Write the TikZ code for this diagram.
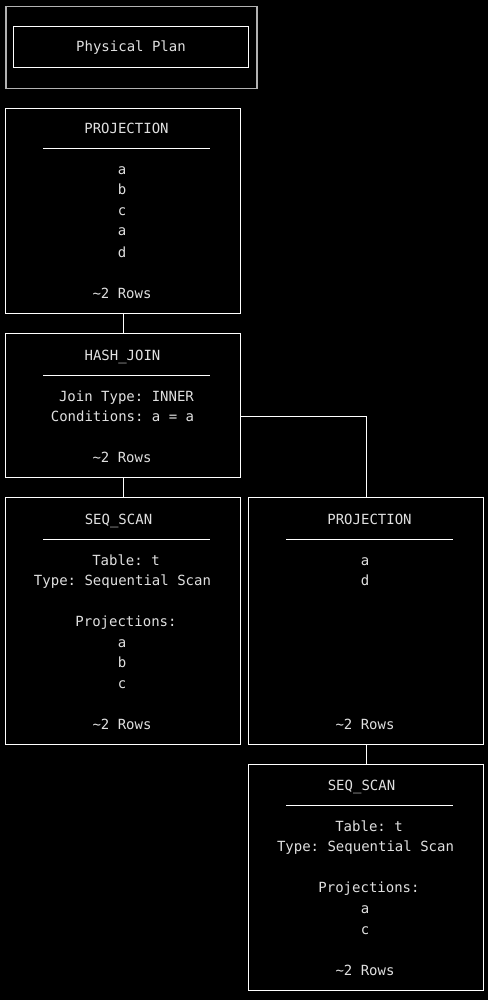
\documentclass[tikz,border=0pt]{standalone}
\usepackage{fontspec}
\setmonofont{DejaVu Sans Mono}
\begin{document}
\begin{tikzpicture}[x=1pt,y=-1pt,
  box/.style={draw=white,line width=1pt,rectangle,inner sep=0pt,anchor=north west},
  tx/.style={text=white!88!black,font=\ttfamily\fontsize{14}{16}\selectfont,anchor=base,inner sep=0pt},
  sep/.style={draw=white,line width=1pt},
  link/.style={draw=white,line width=1pt}]
\fill[black] (0,0) rectangle (488,1000);
\useasboundingbox (0,0) rectangle (488,1000);
% header
\node[box,draw=white!70!black,line width=1.5pt,minimum width=251pt,minimum height=82pt] (outer) at (5,6) {};
\node[box,minimum width=235pt,minimum height=41pt] (inner) at (13,26) {};
\node[tx] (t0) at (131,52) {Physical Plan};
% projection 1
\node[box,minimum width=235pt,minimum height=205pt] (p1) at (5,108) {};
\node[tx] (p1t) at (126.5,134) {PROJECTION};
\draw[sep] (43,149) -- (210,149);
\node[tx] (p1a) at (122,175) {a};
\node[tx] (p1b) at (122,195) {b};
\node[tx] (p1c) at (122,216) {c};
\node[tx] (p1d) at (122,236) {a};
\node[tx] (p1e) at (122,257) {d};
\node[tx] (p1r) at (122,298) {\textasciitilde2 Rows};
% hash join
\node[box,minimum width=235pt,minimum height=144pt] (hj) at (5,333) {};
\node[tx] (hjt) at (122.5,360) {HASH\_JOIN};
\draw[sep] (43,375) -- (210,375);
\node[tx] (hja) at (126.5,401) {Join Type: INNER};
\node[tx] (hjb) at (122.5,421) {Conditions: a = a};
\node[tx] (hjr) at (122,462) {\textasciitilde2 Rows};
% seq scan left
\node[box,minimum width=235pt,minimum height=247pt] (s1) at (5,497) {};
\node[tx] (s1t) at (118.5,524) {SEQ\_SCAN};
\draw[sep] (43,539) -- (210,539);
\node[tx] (s1a) at (126,565) {Table: t};
\node[tx] (s1b) at (122.5,585) {Type: Sequential Scan};
\node[tx] (s1c) at (126,626) {Projections:};
\node[tx] (s1d) at (122,647) {a};
\node[tx] (s1e) at (122,667) {b};
\node[tx] (s1f) at (122,688) {c};
\node[tx] (s1r) at (122,729) {\textasciitilde2 Rows};
% projection 2
\node[box,minimum width=235pt,minimum height=247pt] (p2) at (248,497) {};
\node[tx] (p2t) at (369.5,524) {PROJECTION};
\draw[sep] (286,539) -- (453,539);
\node[tx] (p2a) at (365,565) {a};
\node[tx] (p2b) at (365,585) {d};
\node[tx] (p2r) at (365,729) {\textasciitilde2 Rows};
% seq scan right
\node[box,minimum width=235pt,minimum height=226pt] (s2) at (248,764) {};
\node[tx] (s2t) at (361.5,790) {SEQ\_SCAN};
\draw[sep] (286,805) -- (453,805);
\node[tx] (s2a) at (369,831) {Table: t};
\node[tx] (s2b) at (365.5,851) {Type: Sequential Scan};
\node[tx] (s2c) at (369,892) {Projections:};
\node[tx] (s2d) at (365,913) {a};
\node[tx] (s2e) at (365,934) {c};
\node[tx] (s2r) at (365,975) {\textasciitilde2 Rows};
% connectors
\draw[link] (p1.south) -- (hj.north);
\draw[link] (hj.south) -- (s1.north);
\coordinate (jr) at (240,416);
\draw[link] (jr) -| (p2.north);
\draw[link] (p2.south) -- (s2.north);
\end{tikzpicture}
\end{document}
